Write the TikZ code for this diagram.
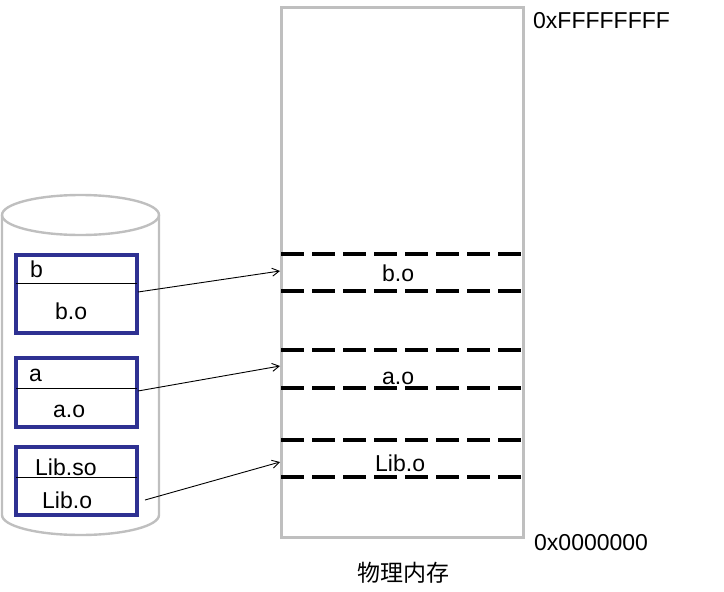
\documentclass[tikz,border=0pt]{standalone}
\usepackage{fontspec}
\setmainfont{Liberation Sans}
\newfontfamily\cjkfont{Noto Sans CJK SC}
\usetikzlibrary{arrows.meta}
\definecolor{graybd}{HTML}{BFBFBF}
\definecolor{navybd}{HTML}{2E3192}
\begin{document}
\begin{tikzpicture}[x=1pt,y=-1pt,
  lbl/.style={inner sep=0pt,anchor=base west,font=\fontsize{23}{27}\selectfont},
  filebox/.style={draw=navybd,line width=3.2pt},
  divider/.style={draw=black,line width=1pt},
  region/.style={draw=black,line width=3.5pt,dash pattern=on 23pt off 8pt},
  link/.style={draw=black,line width=0.9pt,-{Straight Barb[length=7pt,width=8pt]}}]
\useasboundingbox (0,0) rectangle (724,592);
% memory
\draw[graybd,line width=3pt] (281,7) rectangle (523,537);
\coordinate (m1a) at (281,254); \coordinate (m1b) at (523,254);
\coordinate (m2a) at (281,291); \coordinate (m2b) at (523,291);
\coordinate (m3a) at (281,350); \coordinate (m3b) at (523,350);
\coordinate (m4a) at (281,388); \coordinate (m4b) at (523,388);
\coordinate (m5a) at (281,440); \coordinate (m5b) at (523,440);
\coordinate (m6a) at (281,477); \coordinate (m6b) at (523,477);
\draw[region] (m1a) -- (m1b);
\draw[region] (m2a) -- (m2b);
\draw[region] (m3a) -- (m3b);
\draw[region] (m4a) -- (m4b);
\draw[region] (m5a) -- (m5b);
\draw[region] (m6a) -- (m6b);
\node[lbl] (mbo) at (382,281) {b.o};
\node[lbl] (mao) at (382,384) {a.o};
\node[lbl] (mlibo) at (375,471) {Lib.o};
\node[lbl] (top) at (533,28) {0xFFFFFFFF};
\node[lbl] (bot) at (534,550) {0x0000000};
\node[lbl,font=\cjkfont\fontsize{23}{27}\selectfont] (title) at (357,581) {物理内存};
% cylinder
\draw[graybd,line width=2.4pt] (2,215) -- (2,515) arc[start angle=180,end angle=360,x radius=78.5,y radius=-20] -- (159,215);
\draw[graybd,line width=2.4pt] (80.5,215) ellipse[x radius=78.5,y radius=20];
% file boxes
\draw[filebox] (16,255) rectangle (137,333);
\draw[divider] (16,283) -- (137,283);
\node[lbl] (b) at (30,277) {b};
\node[lbl] (bo) at (55,319) {b.o};
\draw[filebox] (16,358) rectangle (137,427);
\draw[divider] (16,388) -- (137,388);
\node[lbl] (a) at (29,381) {a};
\node[lbl] (ao) at (53,417) {a.o};
\draw[filebox] (16,447) rectangle (137,515);
\draw[divider] (16,477) -- (137,477);
\node[lbl] (libso) at (35,475) {Lib.so};
\node[lbl] (libo) at (42,508) {Lib.o};
% arrows
\coordinate (s1) at (138,292); \coordinate (e1) at (280,271);
\coordinate (s2) at (138,391); \coordinate (e2) at (280,366);
\coordinate (s3) at (145,500); \coordinate (e3) at (280,462);
\draw[link] (s1) -- (e1);
\draw[link] (s2) -- (e2);
\draw[link] (s3) -- (e3);
\end{tikzpicture}
\end{document}
